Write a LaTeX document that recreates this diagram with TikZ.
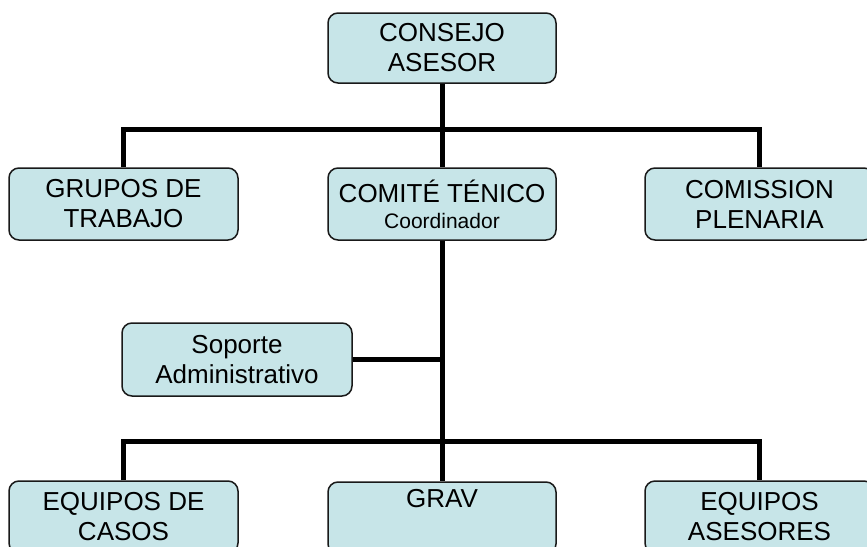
\documentclass[tikz,border=0pt]{standalone}
\usepackage{fontspec}
\setmainfont{Liberation Sans}
\definecolor{boxfill}{RGB}{199,229,232}
\begin{document}
\begin{tikzpicture}[x=1pt,y=-1pt,
  orgbox/.style={draw=black!90, line width=1.5pt, fill=boxfill, rounded corners=10pt,
    minimum width=229pt, minimum height=72pt, inner sep=0pt, align=center,
    font=\fontsize{26}{30}\selectfont},
  conn/.style={draw=black, line width=5pt}]
\useasboundingbox (0,0) rectangle (867,546);
\clip (0,0) rectangle (867,546);
% nodes
\node[orgbox, minimum width=228pt, minimum height=70pt] (consejo) at (442,48) {CONSEJO\\ASESOR};
\node[orgbox] (grupos) at (123.5,204) {GRUPOS DE\\TRABAJO};
\node[orgbox, minimum width=228pt] (comite) at (442,204) {COMITÉ TÉNICO\\[-4pt]{\fontsize{21}{24}\selectfont Coordinador}};
\node[orgbox] (comission) at (759.5,204) {COMISSION\\PLENARIA};
\node[orgbox, minimum width=230pt, minimum height=73pt] (soporte) at (237,359.5) {Soporte\\Administrativo};
\node[orgbox] (eqcasos) at (123.5,517) {EQUIPOS DE\\CASOS};
\node[orgbox, minimum width=228pt] (grav) at (442,518) {GRAV\\\strut};
\node[orgbox] (eqases) at (759.5,517) {EQUIPOS\\ASESORES};
% bus points
\coordinate (topbar) at (442,129);
\coordinate (botbar) at (442,441);
% connectors
\draw[conn] (consejo.south) -- (comite.north);
\draw[conn] (grupos.north) -- (grupos.north |- topbar) -| (comission.north);
\draw[conn] (comite.south) -- (grav.north);
\draw[conn] (soporte.east) -- (soporte.east -| comite.south);
\draw[conn] (eqcasos.north) -- (eqcasos.north |- botbar) -| (eqases.north);
\end{tikzpicture}
\end{document}
